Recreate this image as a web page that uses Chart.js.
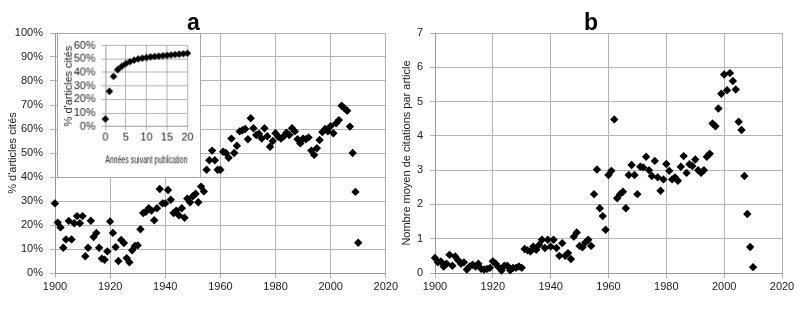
<!DOCTYPE html>
<html>
<head>
<meta charset="utf-8">
<script src="https://cdn.jsdelivr.net/npm/chart.js@4.4.1/dist/chart.umd.min.js"></script>
<style>
  body { margin: 0; background: #fff; }
  #wrap { position: relative; width: 800px; height: 320px; }
  canvas { position: absolute; }
  #chartA { left: 0; top: 0; }
  #chartB { left: 400px; top: 0; }
  #inset { left: 57px; top: 33px; background: #fff; border: 1px solid #a6a6a6; }
</style>
</head>
<body>
<div id="wrap">
  <canvas id="chartA" width="400" height="320"></canvas>
  <canvas id="chartB" width="400" height="320"></canvas>
  <canvas id="inset" width="144" height="145"></canvas>
</div>
<script>
// publication years shared by panels a and b
const years = [
  1900, 1901, 1902, 1903, 1904, 1905, 1906, 1907, 1908, 1909,
  1910, 1911, 1912, 1913, 1914, 1915, 1916, 1917, 1918, 1919,
  1920, 1921, 1922, 1923, 1924, 1925, 1926, 1927, 1928, 1929,
  1930, 1931, 1932, 1933, 1934, 1935, 1936, 1937, 1938, 1939,
  1940, 1941, 1942, 1943, 1944, 1945, 1946, 1947, 1948, 1949,
  1950, 1951, 1952, 1953, 1954, 1955, 1956, 1957, 1958, 1959,
  1960, 1961, 1962, 1963, 1964, 1965, 1966, 1967, 1968, 1969,
  1970, 1971, 1972, 1973, 1974, 1975, 1976, 1977, 1978, 1979,
  1980, 1981, 1982, 1983, 1984, 1985, 1986, 1987, 1988, 1989,
  1990, 1991, 1992, 1993, 1994, 1995, 1996, 1997, 1998, 1999,
  2000, 2001, 2002, 2003, 2004, 2005, 2006, 2007, 2008, 2009,
  2010
];

// panel a : % d'articles cités
const citedPct = [
  29, 21, 19, 10.5, 14, 21.7, 14, 20.7, 23.7, 20.7,
  23.7, 7, 10.5, 21.8, 15, 16.7, 10.5, 6, 5.5, 9,
  21.5, 16.7, 10.8, 5, 13.8, 12.5, 6.2, 4.5, 9.5, 11.3,
  11.5, 18.2, 25, 25.5, 27, 26, 22, 27, 35, 29,
  29, 34.6, 30.5, 25, 26, 24, 27, 23, 31, 29.5,
  32, 33, 29.5, 36, 34, 43, 47, 51, 47, 43,
  43, 50.5, 50, 48, 56, 50, 53, 59, 59.5, 60,
  55.7, 64.5, 60.3, 57.5, 58, 56, 60.3, 57, 52.6, 55,
  58.2, 56.8, 56, 57, 58.5, 57.5, 60.3, 59, 55.7, 54,
  56, 55.7, 56.5, 51, 49.2, 52, 55.4, 58.7, 60, 59,
  61.2, 58.2, 62.4, 63.7, 69.7, 68.6, 67.6, 61, 50, 33.8,
  12.6
];

// panel b : nombre moyen de citations par article
const meanCites = [
  0.44, 0.31, 0.34, 0.19, 0.27, 0.53, 0.21, 0.48, 0.37, 0.27,
  0.31, 0.1, 0.19, 0.24, 0.19, 0.27, 0.12, 0.1, 0.12, 0.15,
  0.34, 0.27, 0.17, 0.07, 0.21, 0.21, 0.08, 0.15, 0.15, 0.19,
  0.15, 0.7, 0.66, 0.63, 0.77, 0.68, 0.82, 0.97, 0.73, 0.97,
  0.77, 0.97, 0.73, 0.5, 0.87, 0.5, 0.58, 0.41, 1.06, 1.18,
  0.79, 0.75, 0.89, 0.97, 0.79, 2.3, 3.02, 1.89, 1.66, 1.26,
  2.86, 2.98, 4.48, 2.18, 2.3, 2.37, 1.89, 2.86, 3.15, 2.86,
  2.3, 3.1, 3.08, 3.39, 3.0, 2.83, 3.27, 2.79, 2.4, 2.73,
  3.18, 2.98, 2.73, 2.79, 2.69, 3.1, 3.41, 2.92, 3.17, 3.12,
  3.31, 3.0, 2.92, 3.0, 3.39, 3.48, 4.36, 4.28, 4.8, 5.23,
  5.79, 5.33, 5.83, 5.6, 5.35, 4.41, 4.17, 2.83, 1.72, 0.76,
  0.17
];

// inset : years after publication
const lagYears = [0, 1, 2, 3, 4, 5, 6, 7, 8, 9, 10, 11, 12, 13, 14, 15, 16, 17, 18, 19, 20];
const lagCitedPct = [5.5, 26, 37, 42, 44.5, 46.5, 48, 49, 50, 50.5, 51, 51.5, 51.8, 52, 52.3, 52.6, 52.9, 53.2, 53.5, 53.8, 54.2];

const FONT = "'Liberation Sans Narrow', 'Liberation Sans', Arial, sans-serif";
Chart.defaults.font.family = FONT;
Chart.defaults.font.size = 11;
Chart.defaults.color = '#1a1a1a';

const GRID = '#b3b3b3';
const AXIS = '#9a9a9a';

function points(xs, ys) {
  return xs.map((x, i) => ({ x: x, y: ys[i] }));
}

function diamonds(data, r) {
  return {
    data: data,
    pointStyle: 'rectRot',
    pointRadius: r,
    pointHoverRadius: r,
    backgroundColor: '#000',
    borderColor: '#000',
    borderWidth: 0,
    clip: false
  };
}

function panelTitle(txt) {
  return {
    display: true,
    text: txt,
    color: '#000',
    font: { family: "'Liberation Sans', Arial, sans-serif", size: 23, weight: 'bold', lineHeight: 0.8 },
    padding: { top: 14, bottom: 0.6 }
  };
}

const noLegend = { legend: { display: false }, tooltip: { enabled: false } };
const plain = v => String(v);

new Chart(document.getElementById('chartA'), {
  type: 'scatter',
  data: { datasets: [diamonds(points(years, citedPct), 4.2)] },
  options: {
    responsive: false,
    animation: false,
    layout: { padding: { left: 0, right: 13, top: 0, bottom: 0 } },
    plugins: Object.assign({ title: panelTitle('a') }, noLegend),
    scales: {
      x: {
        type: 'linear', min: 1900, max: 2020,
        ticks: { stepSize: 20, padding: 2, callback: plain },
        grid: { color: GRID, tickLength: 5 },
        border: { color: AXIS },
        afterFit: s => { s.height = 47; }
      },
      y: {
        min: 0, max: 100,
        ticks: { stepSize: 10, padding: 7, callback: v => v + '%' },
        grid: { color: GRID, tickLength: 5 },
        border: { color: AXIS },
        title: { display: true, text: "% d'articles cités", padding: { top: 6, bottom: 0 } },
        afterFit: s => { s.width = 55; }
      }
    }
  }
});

new Chart(document.getElementById('chartB'), {
  type: 'scatter',
  data: { datasets: [diamonds(points(years, meanCites), 4.2)] },
  options: {
    responsive: false,
    animation: false,
    layout: { padding: { left: 0, right: 18, top: 0, bottom: 0 } },
    plugins: Object.assign({ title: panelTitle('b') }, noLegend),
    scales: {
      x: {
        type: 'linear', min: 1900, max: 2020,
        ticks: { stepSize: 20, padding: 2, callback: plain },
        grid: { color: GRID, tickLength: 5 },
        border: { color: AXIS },
        afterFit: s => { s.height = 47; }
      },
      y: {
        min: 0, max: 7,
        ticks: { stepSize: 1, padding: 7, callback: plain },
        grid: { color: GRID, tickLength: 5 },
        border: { color: AXIS },
        title: { display: true, text: 'Nombre moyen de citations par article', padding: { top: 0, bottom: 0 } },
        afterFit: s => { s.width = 35; }
      }
    }
  }
});

// small inset over panel a
new Chart(document.getElementById('inset'), {
  type: 'scatter',
  data: { datasets: [diamonds(points(lagYears, lagCitedPct), 3.8)] },
  options: {
    responsive: false,
    animation: false,
    layout: { padding: { left: 0, right: 12.7, top: 8.7, bottom: 0 } },
    plugins: noLegend,
    scales: {
      x: {
        type: 'linear', min: 0, max: 20,
        ticks: { count: 5, padding: 2, autoSkip: false, maxRotation: 0, font: { lineHeight: 1 }, callback: plain },
        grid: { color: GRID, tickLength: 4 },
        border: { color: AXIS },
        title: { display: true, text: 'Années suivant publication', font: { lineHeight: 1 }, padding: { top: 0, bottom: 12 } },
        afterFit: s => { s.height = 51.3; }
      },
      y: {
        min: 0, max: 60,
        ticks: { count: 7, padding: 6, autoSkip: false, font: { lineHeight: 1 }, callback: v => v + '%' },
        grid: { color: GRID, tickLength: 4 },
        border: { color: AXIS },
        title: { display: true, text: "% d'articles cités", font: { lineHeight: 1 }, padding: { top: 5, bottom: 0 } },
        afterFit: s => { s.width = 48; }
      }
    }
  }
});
</script>
</body>
</html>
